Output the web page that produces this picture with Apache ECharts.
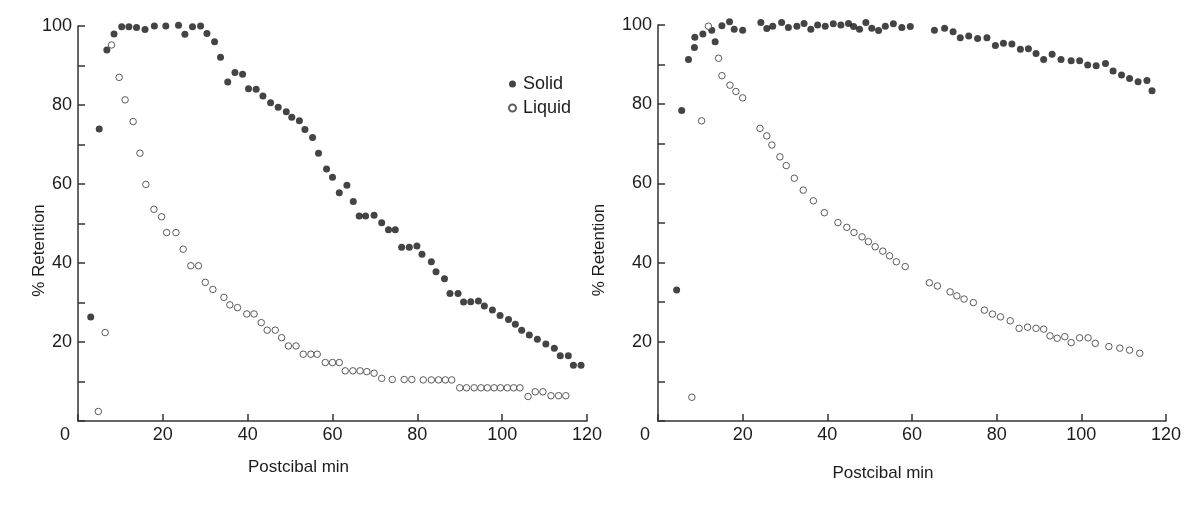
<!DOCTYPE html>
<html>
<head>
<meta charset="utf-8">
<script src="https://cdn.jsdelivr.net/npm/echarts@6/dist/echarts.min.js"></script>
<style>
html,body{margin:0;padding:0;background:#fff;}
#chart{width:1188px;height:506px;}
</style>
</head>
<body>
<div id="chart"></div>
<script>
// ---- data (x = postcibal min, y = % retention) ----
var xTicks = [0, 20, 40, 60, 80, 100, 120];
var yTicks = [20, 40, 60, 80, 100];

var leftSolid = [[3.0,26.3],[5.0,73.9],[6.8,93.9],[8.5,98.0],[10.3,99.8],[12.0,99.8],[13.8,99.6],[15.8,99.1],[18.0,100],[20.7,100],[23.7,100.2],[25.2,97.9],[27.0,99.8],[28.9,100],[30.4,98.1],[32.2,96.0],[33.6,92.1],[35.3,85.8],[37.0,88.2],[38.8,87.8],[40.2,84.1],[42.0,84.0],[43.6,82.3],[45.4,80.6],[47.2,79.4],[49.1,78.3],[50.4,76.9],[52.2,76.0],[53.5,73.8],[55.3,71.8],[56.7,67.8],[58.6,63.8],[60.0,61.7],[61.6,57.8],[63.4,59.7],[64.9,55.6],[66.3,51.9],[67.8,51.9],[69.8,52.1],[71.6,50.2],[73.2,48.4],[74.8,48.4],[76.3,44.0],[78.1,44.0],[79.9,44.3],[81.1,42.2],[83.3,40.3],[84.4,37.8],[86.4,36.0],[87.7,32.3],[89.6,32.3],[90.9,30.1],[92.6,30.2],[94.4,30.4],[95.8,29.1],[97.7,28.1],[99.5,26.7],[101.5,25.7],[103.1,24.5],[104.6,23.0],[106.4,21.8],[108.3,20.7],[110.3,19.5],[112.3,18.4],[113.7,16.5],[115.6,16.5],[116.8,14.1],[118.6,14.1]];

var leftLiquid = [[4.8,2.4],[6.4,22.4],[7.9,95.2],[9.7,87.0],[11.1,81.3],[13.0,75.8],[14.6,67.8],[16.0,59.9],[17.9,53.6],[19.7,51.7],[20.9,47.7],[23.1,47.7],[24.8,43.5],[26.6,39.3],[28.4,39.3],[30.0,35.1],[31.8,33.3],[34.4,31.3],[35.8,29.4],[37.6,28.7],[39.8,27.1],[41.5,27.1],[43.2,24.9],[44.6,23.0],[46.5,23.0],[48.0,21.1],[49.6,19.0],[51.4,19.0],[53.1,16.9],[54.9,16.9],[56.4,16.9],[58.3,14.8],[60.0,14.8],[61.6,14.8],[63.0,12.7],[64.8,12.7],[66.5,12.7],[68.1,12.5],[69.8,12.1],[71.6,10.8],[74.1,10.5],[76.9,10.5],[78.7,10.5],[81.4,10.4],[83.3,10.4],[85.0,10.4],[86.6,10.4],[88.1,10.4],[90.0,8.4],[91.6,8.4],[93.4,8.4],[95.0,8.4],[96.5,8.4],[98.1,8.4],[99.6,8.4],[101.2,8.4],[102.7,8.4],[104.2,8.4],[106.1,6.2],[107.8,7.4],[109.6,7.4],[111.5,6.4],[113.3,6.4],[115.0,6.4]];

var rightSolid = [[4.4,33.1],[5.6,78.4],[7.2,91.3],[8.6,94.3],[8.7,96.9],[10.6,97.7],[12.7,98.7],[13.5,95.8],[15.1,99.8],[16.9,100.8],[18.0,98.9],[20.0,98.7],[24.3,100.6],[25.7,99.1],[27.1,99.7],[29.2,100.6],[30.8,99.4],[32.8,99.7],[34.5,100.4],[36.1,98.9],[37.7,100],[39.5,99.7],[41.4,100.3],[43.2,100],[45.0,100.4],[46.2,99.6],[47.6,98.9],[49.1,100.6],[50.5,99.2],[52.1,98.6],[53.7,99.7],[55.6,100.3],[57.6,99.4],[59.6,99.6],[65.3,98.7],[67.7,99.2],[69.7,98.3],[71.4,96.8],[73.4,97.2],[75.5,96.6],[77.7,96.8],[79.7,94.8],[81.6,95.4],[83.6,95.2],[85.6,93.9],[87.5,94.0],[89.3,92.8],[91.1,91.3],[93.1,92.6],[95.2,91.3],[97.6,91.0],[99.6,91.0],[101.5,89.9],[103.5,89.7],[105.7,90.3],[107.5,88.4],[109.5,87.4],[111.4,86.5],[113.4,85.7],[115.5,86.0],[116.7,83.4]];

var rightLiquid = [[8.0,6.0],[10.3,75.8],[11.9,99.7],[14.3,91.6],[15.1,87.2],[17.0,84.8],[18.4,83.2],[20.0,81.6],[24.1,73.9],[25.7,72.0],[26.9,69.7],[28.8,66.7],[30.3,64.5],[32.2,61.3],[34.3,58.3],[36.7,55.6],[39.3,52.6],[42.5,50.1],[44.6,48.9],[46.3,47.6],[48.2,46.5],[49.7,45.3],[51.3,44.0],[53.1,42.9],[54.7,41.7],[56.3,40.2],[58.4,39.0],[64.1,34.9],[66.0,34.1],[69.0,32.6],[70.6,31.6],[72.3,30.8],[74.5,29.9],[77.1,28.0],[79.0,27.0],[80.9,26.3],[83.2,25.3],[85.3,23.4],[87.3,23.7],[89.3,23.4],[91.1,23.2],[92.6,21.5],[94.3,20.9],[96.1,21.3],[97.6,19.8],[99.6,21.0],[101.6,21.0],[103.3,19.6],[106.5,18.8],[109.1,18.4],[111.4,17.9],[113.8,17.1]];

var xTitle = 'Postcibal min';
var yTitle = '% Retention';
var seriesNames = ['Solid', 'Liquid'];

// ---- chart ----
var FONT = '"Liberation Sans", Arial, Helvetica, sans-serif';
var INK = '#1c1c1c';
var chart = echarts.init(document.getElementById('chart'), null, {renderer: 'canvas'});

function xAxisFor(gi, titleShift) {
  return {
    gridIndex: gi, type: 'value', min: 0, max: 120, interval: 20,
    axisLine: {show: true, onZero: false, lineStyle: {color: '#333', width: 1.5}},
    axisTick: {show: true, inside: true, length: 7, lineStyle: {color: '#333', width: 1.5}},
    minorTick: {show: false},
    splitLine: {show: false},
    axisLabel: {
      margin: 5, color: INK, fontSize: 18, fontFamily: FONT,
      formatter: function (v) { return xTicks.indexOf(v) < 0 ? '' : (v === 0 ? '{z|0}' : String(v)); },
      rich: {z: {fontSize: 18, fontFamily: FONT, color: INK, padding: [0, 26, 0, 0]}}
    },
    name: xTitle, nameLocation: 'middle', nameGap: 38,
    nameTextStyle: {color: INK, fontSize: 17, fontFamily: FONT, padding: [titleShift[1], titleShift[0], 0, 0]}
  };
}
function yAxisFor(gi, gap, shift) {
  return {
    gridIndex: gi, type: 'value', min: 0, max: 100, interval: 20,
    axisLine: {show: true, onZero: false, lineStyle: {color: '#333', width: 1.5}},
    axisTick: {show: true, inside: true, length: 7, lineStyle: {color: '#333', width: 1.5}},
    minorTick: {show: true, splitNumber: 2, length: 7, lineStyle: {color: '#333', width: 1.5}},
    splitLine: {show: false},
    axisLabel: {
      margin: 6, color: INK, fontSize: 18, fontFamily: FONT,
      formatter: function (v) { return yTicks.indexOf(v) < 0 ? '' : String(v); }
    },
    name: yTitle, nameLocation: 'middle', nameGap: gap, nameMoveOverlap: false,
    nameTextStyle: {color: INK, fontSize: 17, fontFamily: FONT, padding: [0, shift, 0, 0]}
  };
}
function solidSeries(name, data, i) {
  return {
    name: name, type: 'scatter', xAxisIndex: i, yAxisIndex: i, data: data,
    symbol: 'circle', symbolSize: 7, clip: false,
    itemStyle: {color: '#151515', borderWidth: 0}
  };
}
function liquidSeries(name, data, i) {
  return {
    name: name, type: 'scatter', xAxisIndex: i, yAxisIndex: i, data: data,
    symbol: 'circle', symbolSize: 6.5, clip: false,
    itemStyle: {color: '#fff', borderColor: '#333', borderWidth: 1}
  };
}

chart.setOption({
  animation: false,
  backgroundColor: '#fff',
  grid: [
    {left: 78, top: 26, width: 509, height: 395},
    {left: 658, top: 25, width: 508, height: 396}
  ],
  xAxis: [xAxisFor(0, [68, 0]), xAxisFor(1, [58, 6])],
  yAxis: [yAxisFor(0, 30, 54), yAxisFor(1, 50, 54)],
  legend: {
    left: 503, top: 70, orient: 'vertical', itemGap: 6,
    itemWidth: 7, itemHeight: 7, icon: 'circle',
    data: seriesNames,
    textStyle: {color: INK, fontSize: 18, fontFamily: FONT, padding: [0, 0, 0, 2]},
    selectedMode: false
  },
  series: [
    solidSeries(seriesNames[0], leftSolid, 0),
    liquidSeries(seriesNames[1], leftLiquid, 0),
    solidSeries(seriesNames[0], rightSolid, 1),
    liquidSeries(seriesNames[1], rightLiquid, 1)
  ]
});
</script>
</body>
</html>
